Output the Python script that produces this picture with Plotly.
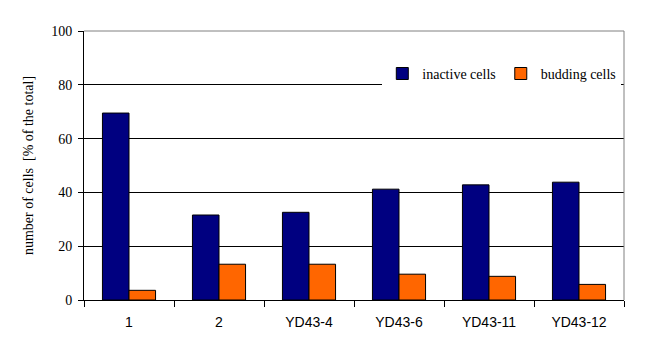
import plotly.graph_objects as go

categories = ["1", "2", "YD43-4", "YD43-6", "YD43-11", "YD43-12"]
inactive = [69.5, 31.6, 32.6, 41.2, 42.8, 43.8]
budding = [3.6, 13.3, 13.3, 9.6, 8.8, 5.8]

serif = "Liberation Serif, Times New Roman, serif"
sans = "Liberation Sans, Arial, sans-serif"

fig = go.Figure()
fig.add_trace(go.Bar(x=categories, y=inactive, name="inactive cells",
                     marker=dict(color="#000080", line=dict(color="black", width=1))))
fig.add_trace(go.Bar(x=categories, y=budding, name="budding cells",
                     marker=dict(color="#FF6600", line=dict(color="black", width=1))))

# page body has an 8px default margin; size figure to compensate
fig.update_layout(
    width=643, height=349,
    margin=dict(l=76, r=27, t=23, b=57),
    paper_bgcolor="white", plot_bgcolor="white",
    barmode="group", bargap=0.41, bargroupgap=0,
    showlegend=True,
    legend=dict(orientation="h", x=0.995, y=0.9, xanchor="right", yanchor="top",
                bgcolor="white", font=dict(family=serif, size=14, color="black"),
                itemwidth=30, tracegroupgap=0),
    xaxis=dict(showline=True, linecolor="black", linewidth=1, ticks="outside",
               tickson="boundaries", ticklen=6, tickcolor="black",
               ticklabelstandoff=9,
               tickfont=dict(family=sans, size=14, color="black"), showgrid=False),
    yaxis=dict(range=[0, 100], dtick=20, showline=True, linecolor="black", linewidth=1,
               ticks="outside", ticklen=5, tickcolor="black", showgrid=True,
               gridcolor="black", gridwidth=1, zeroline=False,
               ticklabelstandoff=3,
               tickfont=dict(family=serif, size=14, color="black"),
               title=dict(text="number of cells  [% of the total]",
                          font=dict(family=serif, size=14, color="black"), standoff=14)),
    shapes=[
        dict(type="line", xref="paper", yref="paper", x0=0, x1=1, y0=1, y1=1,
             line=dict(color="#808080", width=1), layer="above"),
        dict(type="line", xref="paper", yref="paper", x0=1, x1=1, y0=0, y1=1,
             line=dict(color="#808080", width=1), layer="above"),
    ],
)

fig.write_html("out.html")
